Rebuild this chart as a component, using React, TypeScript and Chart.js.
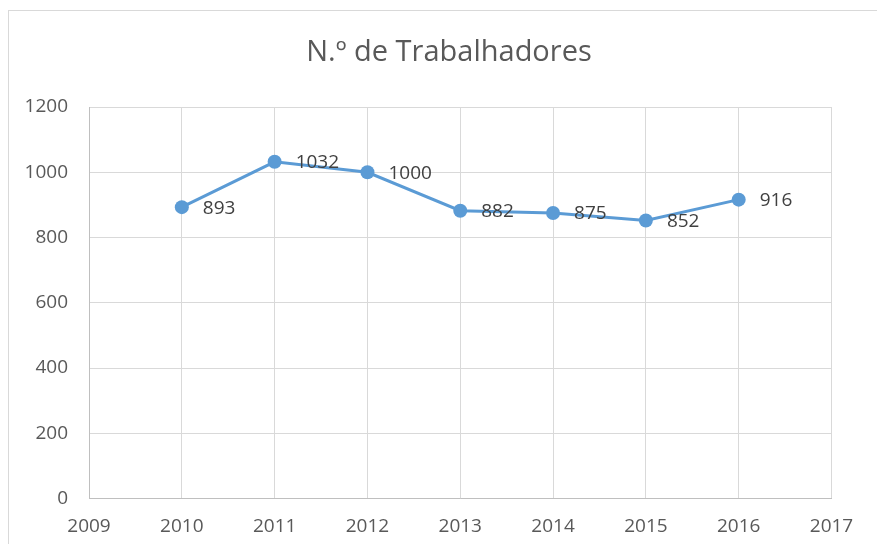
import React, { useEffect, useRef } from "react";
import { Chart, registerables } from "chart.js";

Chart.register(...registerables);

const titleText = "N.º de Trabalhadores";
const years = [2010, 2011, 2012, 2013, 2014, 2015, 2016];
const workers = [893, 1032, 1000, 882, 875, 852, 916];
const xMin = 2009;
const xMax = 2017;
const yMin = 0;
const yMax = 1200;
const yStep = 200;

const FONT = "'Open Sans', 'Noto Sans', sans-serif";

export default function App() {
  const ref = useRef<HTMLCanvasElement | null>(null);

  useEffect(() => {
    if (!ref.current) return;
    const frame = {
      id: "frame",
      beforeDraw(chart: any) {
        const ctx = chart.ctx;
        ctx.save();
        ctx.fillStyle = "#ffffff";
        ctx.fillRect(0, 0, chart.width, chart.height);
        ctx.strokeStyle = "#d9d9d9";
        ctx.lineWidth = 1;
        ctx.strokeRect(8.5, 10.5, 900, 600);
        ctx.restore();
      },
    };
    const titlePlugin = {
      id: "customTitle",
      afterDraw(chart: any) {
        const ctx = chart.ctx;
        ctx.save();
        ctx.fillStyle = "#595959";
        ctx.font = `29px ${FONT}`;
        ctx.textAlign = "center";
        ctx.textBaseline = "alphabetic";
        ctx.fillText(titleText, 449, 61);
        ctx.restore();
      },
    };
    const labels = {
      id: "valueLabels",
      afterDatasetsDraw(chart: any) {
        const ctx = chart.ctx;
        const meta = chart.getDatasetMeta(0);
        ctx.save();
        ctx.fillStyle = "#404040";
        ctx.font = `19px ${FONT}`;
        ctx.textAlign = "left";
        ctx.textBaseline = "middle";
        meta.data.forEach((pt: any, i: number) => {
          ctx.fillText(String(workers[i]), pt.x + 21, pt.y + 1);
        });
        ctx.restore();
      },
    };
    const chart = new Chart(ref.current, {
      type: "line",
      data: {
        datasets: [
          {
            label: titleText,
            data: years.map((y, i) => ({ x: y, y: workers[i] })),
            borderColor: "#5b9bd5",
            backgroundColor: "#5b9bd5",
            borderWidth: 3,
            pointRadius: 7,
            pointBackgroundColor: "#5b9bd5",
            pointBorderColor: "#5b9bd5",
            pointBorderWidth: 0,
            tension: 0,
          },
        ],
      },
      options: {
        animation: false,
        responsive: false,
        maintainAspectRatio: false,
        layout: { padding: { top: 107, right: 45.5, bottom: 0, left: 0 } },
        plugins: {
          legend: { display: false },
          title: { display: false },
          tooltip: { enabled: false },
        },
        scales: {
          x: {
            type: "linear",
            min: xMin,
            max: xMax,
            ticks: {
              stepSize: 1,
              color: "#595959",
              font: { family: FONT, size: 19 },
              padding: 17,
              callback: (v: any) => String(v),
            },
            grid: { color: "#d9d9d9", lineWidth: 1, drawTicks: false },
            border: { color: "#bfbfbf", width: 1 },
            afterFit: (s: any) => {
              s.height = 45.5;
            },
          },
          y: {
            min: yMin,
            max: yMax,
            ticks: {
              stepSize: yStep,
              color: "#595959",
              font: { family: FONT, size: 19 },
              padding: 21,
              callback: (v: any) => String(v),
            },
            grid: { color: "#d9d9d9", lineWidth: 1, drawTicks: false },
            border: { color: "#bfbfbf", width: 1 },
            afterFit: (s: any) => {
              s.width = 89;
            },
          },
        },
      },
      plugins: [frame, titlePlugin, labels],
    });
    return () => chart.destroy();
  }, []);

  return (
    <div style={{ position: "absolute", left: 0, top: 0, width: 877, height: 544, overflow: "hidden" }}>
      <canvas ref={ref} width={877} height={544} style={{ display: "block" }} />
    </div>
  );
}
